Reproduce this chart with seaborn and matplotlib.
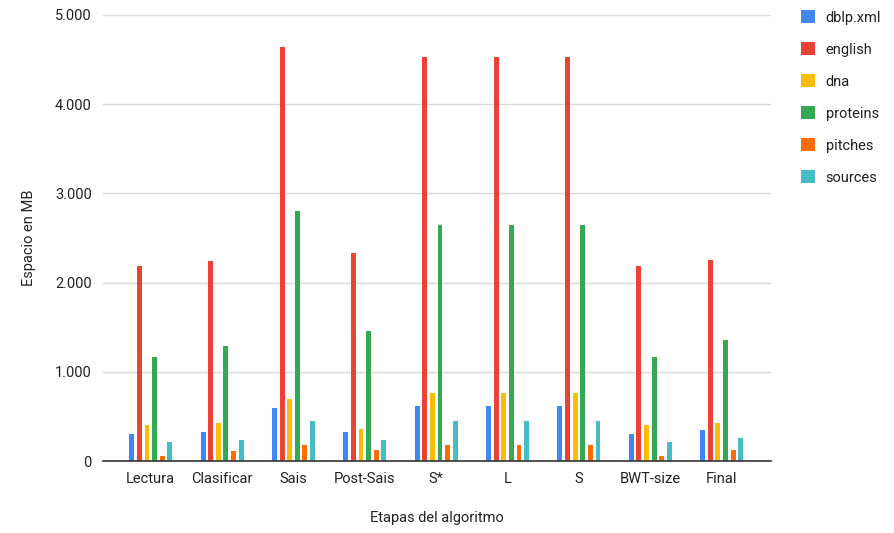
import matplotlib
matplotlib.use("Agg")
import matplotlib.pyplot as plt
import seaborn as sns
import pandas as pd
from matplotlib.ticker import FuncFormatter

categories = ["Lectura", "Clasificar", "Sais", "Post-Sais", "S*", "L", "S", "BWT-size", "Final"]
series_names = ["dblp.xml", "english", "dna", "proteins", "pitches", "sources"]
dblp = [305, 331, 597, 331, 615, 615, 615, 305, 346]
english = [2189, 2237, 4635, 2327, 4534, 4534, 4534, 2189, 2256]
dna = [406, 421, 690, 361, 765, 765, 765, 406, 421]
proteins = [1171, 1294, 2806, 1459, 2641, 2641, 2641, 1171, 1355]
pitches = [62, 107, 182, 121, 182, 182, 182, 62, 121]
sources = [211, 238, 447, 238, 447, 447, 447, 211, 256]
colors = ["#4285F4", "#EA4335", "#FBBC04", "#34A853", "#FF6D01", "#46BDC6"]

values = [dblp, english, dna, proteins, pitches, sources]
rows = []
for name, vals in zip(series_names, values):
    for c, v in zip(categories, vals):
        rows.append({"Etapa": c, "Serie": name, "MB": v})
df = pd.DataFrame(rows)

sns.set_theme(style="white")
plt.rcParams["font.family"] = ["Roboto", "DejaVu Sans"]

fig = plt.figure(figsize=(8.95, 5.33), dpi=100)
ax = fig.add_axes([0.115, 0.135, 0.7464, 0.837])

sns.barplot(data=df, x="Etapa", y="MB", hue="Serie", order=categories,
            hue_order=series_names, palette=colors, width=0.64, gap=0.36,
            saturation=1, linewidth=0, ax=ax, legend=True)

ax.set_xlim(-0.67, 8.69)
ax.set_ylim(0, 5000)
ax.set_yticks([0, 1000, 2000, 3000, 4000, 5000])
ax.yaxis.set_major_formatter(FuncFormatter(lambda v, p: f"{int(v):,}".replace(",", ".")))
ax.grid(axis="y", color="#d9d9d9", linewidth=1)
ax.set_axisbelow(True)
for s in ["top", "right", "left"]:
    ax.spines[s].set_visible(False)
ax.spines["bottom"].set_color("#333333")
ax.spines["bottom"].set_linewidth(1.2)
ax.tick_params(axis="both", length=0, labelsize=10.5, colors="#222222", pad=8)
ax.set_xlabel("Etapas del algoritmo", fontsize=10.5, color="#222222", labelpad=18)
ax.set_ylabel("Espacio en MB", fontsize=10.5, color="#222222", labelpad=14)

leg = ax.legend(loc="upper left", bbox_to_anchor=(1.025, 1.04), frameon=False,
                fontsize=10.5, handlelength=1.0, handleheight=1.0,
                labelspacing=1.2, handletextpad=0.7)
for t in leg.get_texts():
    t.set_color("#222222")

fig.savefig("out.png", dpi=100)
